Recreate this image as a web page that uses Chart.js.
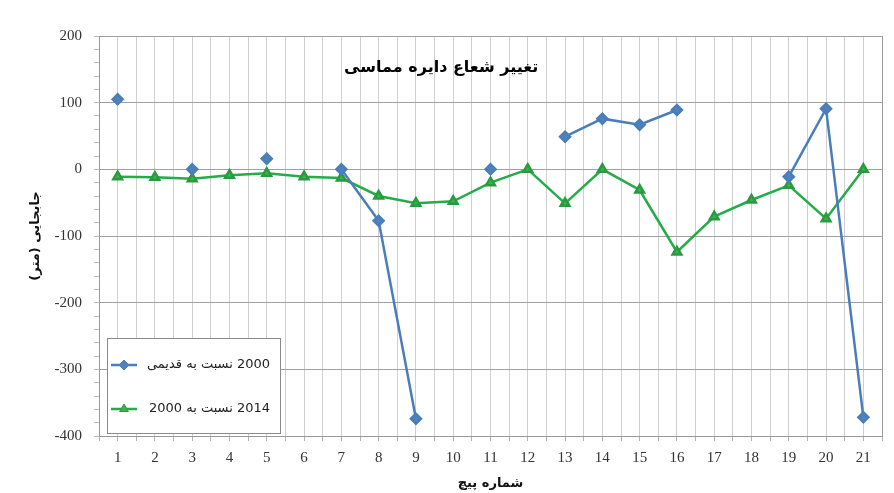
<!DOCTYPE html>
<html lang="fa">
<head>
<meta charset="utf-8">
<title>تغییر شعاع دایره مماسی</title>
<script src="https://cdn.jsdelivr.net/npm/chart.js@4.4.1/dist/chart.umd.min.js"></script>
<style>
  html, body { margin: 0; padding: 0; background: #fff; }
  #wrap { position: relative; width: 894px; height: 493px; }
</style>
</head>
<body>
<div id="wrap"><canvas id="radius-chart"></canvas></div>
<script>
// coil numbers along the x axis
const coils = [1, 2, 3, 4, 5, 6, 7, 8, 9, 10, 11, 12, 13, 14, 15, 16, 17, 18, 19, 20, 21];
// displacement (m), 2000 relative to the old survey (gaps = no value)
const change2000 = [105, null, 0, null, 16, null, 0, -77, -374, null, 0, null, 49, 76, 67, 89, null, null, -11, 91, -372];
// displacement (m), 2014 relative to 2000
const change2014 = [-11, -12, -14, -9, -6, -11, -13, -40, -51, -48, -20, 0, -51, 0, -31, -124, -71, -46, -24, -74, 0];
// labelled y ticks
const yTicks = [200, 100, 0, -100, -200, -300, -400];

const seriesLabels = ['2000 نسبت به قدیمی', '2014 نسبت به 2000'];
const chartTitle = 'تغییر شعاع دایره مماسی';
const xTitle = 'شماره پیچ';
const yTitle = 'جابجایی (متر)';

const persianFont = '"DejaVu Sans", sans-serif';
const serifFont = '"Liberation Serif", "DejaVu Serif", serif';

function toPoints(values) {
    return values.map((v, i) => ({ x: coils[i], y: v }));
}

// title and boxed legend drawn inside the plot area
const insideText = {
    id: 'insideText',
    afterDraw(chart) {
        const { ctx, chartArea } = chart;
        const area = chartArea;
        ctx.save();
        ctx.direction = 'rtl';
        ctx.fillStyle = '#000';
        ctx.textBaseline = 'middle';
        ctx.textAlign = 'center';
        ctx.font = 'bold 16px ' + persianFont;
        ctx.fillText(chartTitle, area.left + (area.right - area.left) * 0.437, area.top + 32);

        // legend box
        const bx = area.left + 8, bw = 173, bh = 95;
        const by = area.bottom - bh - 3;
        ctx.fillStyle = '#fff';
        ctx.fillRect(bx, by, bw, bh);
        ctx.strokeStyle = '#8a8a8a';
        ctx.lineWidth = 1;
        ctx.strokeRect(bx + 0.5, by + 0.5, bw, bh);

        chart.data.datasets.forEach((ds, i) => {
            const y = by + 27 + i * 44;
            ctx.strokeStyle = ds.borderColor;
            ctx.lineWidth = ds.borderWidth;
            ctx.beginPath();
            ctx.moveTo(bx + 4, y);
            ctx.lineTo(bx + 30, y);
            ctx.stroke();
            ctx.fillStyle = ds.pointBackgroundColor;
            ctx.strokeStyle = ds.pointBorderColor;
            ctx.lineWidth = 1;
            Chart.helpers.drawPoint(ctx, {
                pointStyle: ds.pointStyle,
                radius: ds.pointRadius,
                borderWidth: 1
            }, bx + 17, y);
            ctx.fillStyle = '#222';
            ctx.font = '13px ' + persianFont;
            ctx.textAlign = 'right';
            ctx.fillText(ds.label, bx + bw - 10, y);
        });
        ctx.restore();
    }
};

const ctx = document.getElementById('radius-chart').getContext('2d');
new Chart(ctx, {
    type: 'line',
    data: {
        datasets: [{
            label: seriesLabels[0],
            data: toPoints(change2000),
            borderColor: '#4a7ebb',
            backgroundColor: '#4f81bd',
            pointBackgroundColor: '#4f81bd',
            pointBorderColor: '#4a7ebb',
            pointStyle: 'rectRot',
            pointRadius: 5,
            borderWidth: 2.5,
            spanGaps: false,
            tension: 0
        }, {
            label: seriesLabels[1],
            data: toPoints(change2014),
            borderColor: '#22ad48',
            backgroundColor: '#3bb44a',
            pointBackgroundColor: '#3bb44a',
            pointBorderColor: '#2a9a40',
            pointStyle: 'triangle',
            pointRadius: 5,
            borderWidth: 2.5,
            tension: 0
        }]
    },
    options: {
        responsive: true,
        maintainAspectRatio: false,
        animation: false,
        layout: { padding: { top: 36, right: 12, left: 0, bottom: 0 } },
        plugins: {
            legend: { display: false },
            title: { display: false },
            tooltip: { enabled: false }
        },
        scales: {
            x: {
                type: 'linear',
                min: 0.5,
                max: 21.5,
                afterFit: s => { s.height = 57; },
                ticks: {
                    stepSize: 0.5,
                    autoSkip: false,
                    maxRotation: 0,
                    padding: 8,
                    color: '#333',
                    font: { family: serifFont, size: 15 },
                    callback: v => coils.includes(v) ? String(v) : ''
                },
                grid: {
                    color: c => c.tick.value === 21.5 ? '#9a9a9a' : '#cfcfcf',
                    tickColor: '#b0b0b0',
                    tickLength: 5
                },
                border: { color: '#9a9a9a' },
                title: {
                    display: true,
                    text: xTitle,
                    color: '#111',
                    font: { family: persianFont, size: 13, weight: 'bold' },
                    padding: { top: 0, bottom: 2 }
                }
            },
            y: {
                min: -400,
                max: 200,
                afterFit: s => { s.width = 99; },
                ticks: {
                    stepSize: 20,
                    autoSkip: false,
                    padding: 12,
                    color: '#333',
                    font: { family: serifFont, size: 15 },
                    callback: v => yTicks.includes(Math.round(v)) ? String(Math.round(v)) : ''
                },
                grid: {
                    color: c => yTicks.includes(Math.round(c.tick.value)) ? '#a0a0a0' : 'rgba(0,0,0,0)',
                    tickColor: '#b8b8b8',
                    tickLength: 5
                },
                border: { color: '#9a9a9a' },
                title: {
                    display: true,
                    text: '\u202B' + yTitle + '\u202C',
                    color: '#111',
                    font: { family: persianFont, size: 13, weight: 'bold' },
                    padding: { top: 28, bottom: 0 }
                }
            }
        }
    },
    plugins: [insideText]
});
</script>
</body>
</html>
